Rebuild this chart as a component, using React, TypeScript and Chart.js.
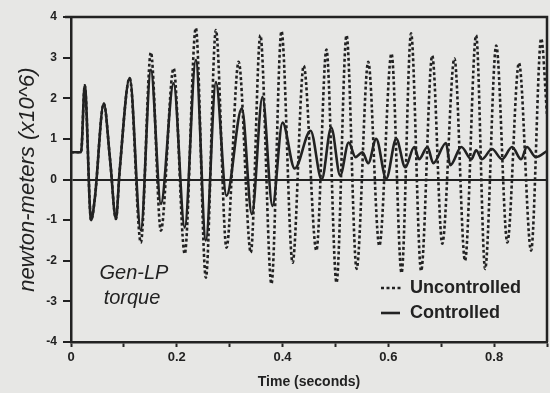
import React, { useEffect, useRef } from "react";
import { Chart, registerables } from "chart.js";

Chart.register(...registerables);

// ---- data ----
const seriesNames = ["Uncontrolled", "Controlled"];
const noteLines = ["Gen-LP", "torque"];
const xTitle = "Time (seconds)";
const yTitle = "newton-meters (x10^6)";
const xLabelled = [0, 0.2, 0.4, 0.6, 0.8];

const uncontrolledTime = [
  0, 0.019, 0.026, 0.038, 0.045, 0.062, 0.074, 0.085, 0.092, 0.111, 0.132, 0.151, 0.17, 0.194,
  0.215, 0.236, 0.255, 0.274, 0.294, 0.317, 0.34, 0.358, 0.379, 0.398, 0.419, 0.44, 0.464, 0.483,
  0.502, 0.521, 0.54, 0.562, 0.583, 0.606, 0.625, 0.643, 0.662, 0.683, 0.702, 0.725, 0.745, 0.766,
  0.783, 0.804, 0.825, 0.847, 0.87, 0.889, 0.9,
];
const uncontrolledValue = [
  0.67, 0.67, 2.32, -1.0, -0.47, 1.87, 0.47, -0.97, 0.22, 2.5, -1.55, 3.13, -1.26, 2.74,
  -1.83, 3.73, -2.42, 3.68, -1.68, 2.9, -1.8, 3.55, -2.57, 3.65, -2.05, 2.8, -1.75, 3.2,
  -2.54, 3.55, -2.2, 2.9, -1.63, 3.1, -2.3, 3.6, -2.25, 3.05, -1.58, 2.98, -2.0, 3.55,
  -2.2, 3.3, -1.55, 2.87, -1.75, 3.47, 1.6,
];

const controlledTime = [
  0, 0.019, 0.026, 0.038, 0.045, 0.062, 0.074, 0.085, 0.092, 0.111, 0.132, 0.151, 0.17, 0.194,
  0.215, 0.236, 0.255, 0.274, 0.294, 0.323, 0.342, 0.362, 0.381, 0.4, 0.423, 0.453, 0.474, 0.492,
  0.509, 0.525, 0.538, 0.551, 0.562, 0.577, 0.596, 0.615, 0.632, 0.649, 0.658, 0.674, 0.685, 0.709,
  0.717, 0.738, 0.757, 0.766, 0.777, 0.796, 0.815, 0.834, 0.851, 0.862, 0.879, 0.9,
];
const controlledValue = [
  0.67, 0.67, 2.32, -1.0, -0.47, 1.87, 0.47, -0.97, 0.22, 2.5, -1.25, 2.7, -0.6, 2.37,
  -1.18, 2.94, -1.5, 2.4, -0.4, 1.75, -0.85, 2.03, -0.65, 1.4, 0.27, 1.2, 0.0, 1.28,
  0.1, 0.91, 0.55, 0.67, 0.4, 1.0, 0.02, 1.0, 0.3, 0.8, 0.5, 0.8, 0.4, 0.9,
  0.35, 0.8, 0.5, 0.72, 0.5, 0.75, 0.5, 0.8, 0.5, 0.8, 0.55, 0.7,
];

const INK = "#222222";
const BG = "#e7e7e5";

const toPoints = (xs: number[], ys: number[]) => xs.map((x, i) => ({ x, y: ys[i] }));

const decorPlugin = {
  id: "decor",
  beforeDraw(chart: any) {
    const { ctx, width, height } = chart;
    ctx.save();
    ctx.fillStyle = BG;
    ctx.fillRect(0, 0, width, height);
    ctx.restore();
  },
  afterDraw(chart: any) {
    const { ctx, chartArea } = chart;
    const { left, right, top, bottom } = chartArea;
    ctx.save();
    ctx.strokeStyle = INK;
    ctx.lineWidth = 2.5;
    ctx.beginPath();
    ctx.moveTo(left - 6, top);
    ctx.lineTo(right, top);
    ctx.lineTo(right, bottom);
    ctx.stroke();

    // annotation text
    ctx.fillStyle = INK;
    ctx.font = "italic 20px 'Liberation Sans', Arial, sans-serif";
    ctx.textAlign = "center";
    ctx.textBaseline = "middle";
    ctx.fillText(noteLines[0], left + 63, bottom - 69);
    ctx.fillText(noteLines[1], left + 61, bottom - 44);

    // legend
    const lx = left + 310;
    const y1 = bottom - 54;
    const y2 = bottom - 29;
    ctx.lineWidth = 2.6;
    ctx.setLineDash([3, 2.5]);
    ctx.beginPath();
    ctx.moveTo(lx, y1);
    ctx.lineTo(lx + 21, y1);
    ctx.stroke();
    ctx.setLineDash([]);
    ctx.beginPath();
    ctx.moveTo(lx, y2);
    ctx.lineTo(lx + 19, y2);
    ctx.stroke();
    ctx.font = "bold 18px 'Liberation Sans', Arial, sans-serif";
    ctx.textAlign = "left";
    ctx.fillText(seriesNames[0], lx + 29, y1);
    ctx.fillText(seriesNames[1], lx + 29, y2);
    ctx.restore();
  },
};

export default function App() {
  const ref = useRef<HTMLCanvasElement | null>(null);

  useEffect(() => {
    if (!ref.current) return;
    const chart = new Chart(ref.current, {
      type: "line",
      data: {
        datasets: [
          {
            label: seriesNames[1],
            data: toPoints(controlledTime, controlledValue),
            borderColor: INK,
            borderWidth: 2.6,
            pointRadius: 0,
            cubicInterpolationMode: "monotone",
            fill: false,
          },
          {
            label: seriesNames[0],
            data: toPoints(uncontrolledTime, uncontrolledValue),
            borderColor: INK,
            borderWidth: 2.6,
            borderDash: [3, 2.5],
            pointRadius: 0,
            cubicInterpolationMode: "monotone",
            fill: false,
          },
        ],
      },
      options: {
        responsive: false,
        maintainAspectRatio: false,
        animation: false,
        layout: { padding: { top: 17, right: 3, left: 0, bottom: 0 } },
        plugins: { legend: { display: false }, tooltip: { enabled: false } },
        scales: {
          x: {
            type: "linear",
            min: 0,
            max: 0.9,
            afterFit: (s: any) => {
              s.height = 51;
            },
            border: { display: true, color: INK, width: 2.5 },
            grid: {
              drawOnChartArea: false,
              drawTicks: true,
              tickLength: 5,
              tickColor: INK,
              tickWidth: 2,
            },
            ticks: {
              stepSize: 0.1,
              autoSkip: false,
              maxRotation: 0,
              padding: 3,
              color: INK,
              font: { family: "'Liberation Sans', Arial, sans-serif", size: 13, weight: "bold" },
              callback: (v: any) => {
                const r = Math.round(Number(v) * 10) / 10;
                return xLabelled.includes(r) ? String(r) : "";
              },
            },
            title: {
              display: true,
              text: xTitle,
              color: INK,
              padding: { top: 0, bottom: 2 },
              font: { family: "'Liberation Sans', Arial, sans-serif", size: 14, weight: "bold" },
            },
          },
          y: {
            min: -4,
            max: 4,
            afterFit: (s: any) => {
              s.width = 71;
            },
            border: { display: true, color: INK, width: 2.5 },
            grid: {
              drawOnChartArea: true,
              drawTicks: true,
              tickLength: 8,
              tickColor: INK,
              tickWidth: 2,
              color: (c: any) => (c.tick && c.tick.value === 0 ? INK : "rgba(0,0,0,0)"),
              lineWidth: 2,
            },
            ticks: {
              stepSize: 1,
              padding: 6,
              color: INK,
              font: { family: "'Liberation Sans', Arial, sans-serif", size: 12, weight: "bold" },
              callback: (v: any) => String(v),
            },
            title: {
              display: true,
              text: yTitle,
              color: INK,
              padding: { top: 15, bottom: 0 },
              font: { family: "'Liberation Sans', Arial, sans-serif", size: 22, style: "italic" },
            },
          },
        },
      },
      plugins: [decorPlugin],
    } as any);
    return () => chart.destroy();
  }, []);

  return (
    <div style={{ position: "fixed", left: 0, top: 0, width: 550, height: 393, background: BG }}>
      <canvas ref={ref} width={550} height={393} style={{ display: "block", width: 550, height: 393 }} />
    </div>
  );
}
